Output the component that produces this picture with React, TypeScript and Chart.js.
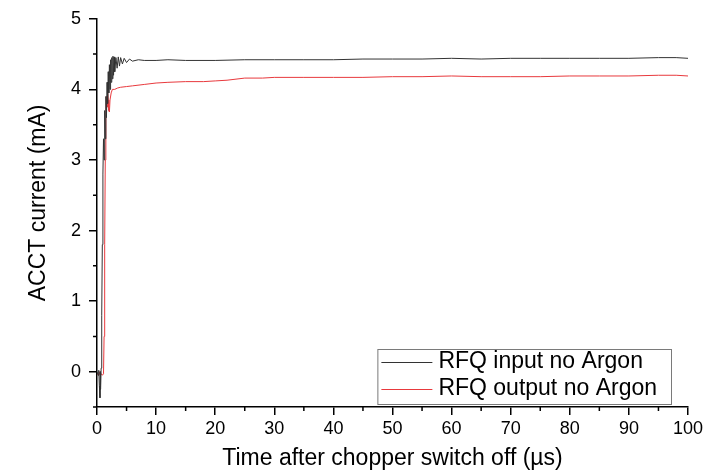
import React, { useEffect, useRef } from 'react';
import { Chart, registerables } from 'chart.js';

Chart.register(...registerables);

// ---- Data ----
const inputTime = [
  0, 0.2, 0.3, 0.4, 0.5, 0.55, 0.6, 0.7, 0.8, 0.9, 1.0, 1.1, 1.2, 1.3, 1.4, 1.5, 1.6, 1.7, 1.8, 1.9,
  2.0, 2.1, 2.2, 2.3, 2.4, 2.5, 2.6, 2.7, 2.8, 2.9, 3.0, 3.2, 3.4, 3.6, 3.8, 4.0, 4.3, 4.6, 5, 5.5,
  6, 7, 8, 10, 12, 15, 20, 25, 30, 35, 40, 45, 50, 55, 60, 65, 70, 75, 80, 85, 90, 95, 98, 100,
];
const inputCurrent = [
  0, -0.05, 0.02, -0.2, -0.37, 0.0, -0.25, 0.05, 0.8, 1.8, 2.8, 3.3, 3.0, 3.7, 3.3, 3.9, 3.6, 4.1, 3.8, 4.25,
  3.95, 4.35, 4.0, 4.42, 4.1, 4.45, 4.15, 4.47, 4.2, 4.46, 4.25, 4.45, 4.3, 4.46, 4.33, 4.45, 4.36, 4.44, 4.38, 4.43,
  4.4, 4.42, 4.41, 4.41, 4.42, 4.41, 4.41, 4.42, 4.42, 4.42, 4.42, 4.43, 4.43, 4.43, 4.44, 4.43, 4.44, 4.44, 4.44, 4.44, 4.44, 4.45, 4.45, 4.44,
];
const outputTime = [
  0, 0.3, 0.5, 0.7, 0.9, 1.1, 1.2, 1.3, 1.4, 1.5, 1.6, 1.7, 1.8, 1.9, 2.0, 2.1, 2.2, 2.4, 2.6, 3,
  3.5, 4, 5, 6, 8, 10, 12, 15, 18, 20, 22, 25, 28, 30, 35, 40, 45, 50, 55, 60,
  65, 70, 75, 80, 85, 90, 95, 98, 100,
];
const outputCurrent = [
  -0.03, -0.05, 0.0, -0.03, -0.05, -0.03, 0.5, 1.8, 3.0, 3.6, 3.9, 3.75, 3.95, 3.85, 3.7, 3.68, 3.85, 3.95, 4.0, 4.0,
  4.02, 4.03, 4.04, 4.05, 4.07, 4.09, 4.1, 4.11, 4.11, 4.12, 4.13, 4.16, 4.16, 4.17, 4.17, 4.17, 4.17, 4.18, 4.18, 4.19,
  4.18, 4.18, 4.18, 4.19, 4.19, 4.19, 4.2, 4.2, 4.19,
];

const seriesLabels = ['RFQ input no Argon', 'RFQ output no Argon'];
const seriesColors = ['#333333', '#e8393d'];

const xTickValues = [0, 10, 20, 30, 40, 50, 60, 70, 80, 90, 100];
const yTickValues = [0, 1, 2, 3, 4, 5];
const xMinorTicks = [5, 15, 25, 35, 45, 55, 65, 75, 85, 95];
const yMinorTicks = [-0.5, 0.5, 1.5, 2.5, 3.5, 4.5];

const xTitle = 'Time after chopper switch off (µs)';
const yTitle = 'ACCT current (mA)';

const FONT = '"Liberation Sans", Arial, sans-serif';

const minorTickPlugin = {
  id: 'minorTicks',
  afterDraw(chart: any) {
    const { ctx, chartArea, scales } = chart;
    const x = scales.x;
    const y = scales.y;
    ctx.save();
    ctx.strokeStyle = '#000';
    ctx.lineWidth = 1.5;
    ctx.beginPath();
    xMinorTicks.forEach((v) => {
      const px = x.getPixelForValue(v);
      ctx.moveTo(px, chartArea.bottom);
      ctx.lineTo(px, chartArea.bottom + 4);
    });
    yMinorTicks.forEach((v) => {
      const py = y.getPixelForValue(v);
      ctx.moveTo(chartArea.left, py);
      ctx.lineTo(chartArea.left - 4, py);
    });
    ctx.stroke();
    ctx.restore();
  },
};

const yTitlePlugin = {
  id: 'yTitle',
  afterDraw(chart: any) {
    const { ctx, chartArea } = chart;
    ctx.save();
    ctx.translate(39, (chartArea.top + chartArea.bottom) / 2 - 10);
    ctx.rotate(-Math.PI / 2);
    ctx.font = `23px ${FONT}`;
    ctx.fillStyle = '#000';
    ctx.textAlign = 'center';
    ctx.textBaseline = 'middle';
    ctx.fillText(yTitle, 0, 0);
    ctx.restore();
  },
};

const boxLegendPlugin = {
  id: 'boxLegend',
  afterDraw(chart: any) {
    const { ctx, chartArea } = chart;
    const datasets = chart.data.datasets;
    ctx.save();
    ctx.font = `23px ${FONT}`;
    let maxW = 0;
    datasets.forEach((d: any) => {
      maxW = Math.max(maxW, ctx.measureText(d.label).width);
    });
    const lineLen = 51;
    const padL = 4;
    const gap = 6;
    const padR = 14;
    const rowH = 27;
    const width = padL + lineLen + gap + maxW + padR;
    const height = 55;
    const right = chartArea.right - 17;
    const bottom = chartArea.bottom - 3;
    const left = right - width;
    const top = bottom - height;
    ctx.fillStyle = '#fff';
    ctx.fillRect(left, top, width, height);
    ctx.strokeStyle = '#7a7a7a';
    ctx.lineWidth = 1;
    ctx.strokeRect(left + 0.5, top + 0.5, width, height);
    datasets.forEach((d: any, i: number) => {
      const cy = top + 13 + i * rowH;
      ctx.strokeStyle = d.borderColor;
      ctx.lineWidth = 1;
      ctx.beginPath();
      ctx.moveTo(left + padL, cy + 0.5);
      ctx.lineTo(left + padL + lineLen, cy + 0.5);
      ctx.stroke();
      ctx.fillStyle = '#000';
      ctx.textBaseline = 'middle';
      ctx.textAlign = 'left';
      ctx.fillText(d.label, left + padL + lineLen + gap, cy);
    });
    ctx.restore();
  },
};

export default function App() {
  const canvasRef = useRef<HTMLCanvasElement | null>(null);

  useEffect(() => {
    const canvas = canvasRef.current;
    if (!canvas) return;
    const chart = new Chart(canvas, {
      type: 'line',
      data: {
        datasets: [
          {
            label: seriesLabels[0],
            data: inputTime.map((t, i) => ({ x: t, y: inputCurrent[i] })),
            borderColor: seriesColors[0],
            backgroundColor: seriesColors[0],
            borderWidth: 1,
            pointRadius: 0,
            tension: 0,
          },
          {
            label: seriesLabels[1],
            data: outputTime.map((t, i) => ({ x: t, y: outputCurrent[i] })),
            borderColor: seriesColors[1],
            backgroundColor: seriesColors[1],
            borderWidth: 1,
            pointRadius: 0,
            tension: 0,
          },
        ],
      },
      options: {
        animation: false,
        responsive: false,
        events: [],
        layout: { padding: { left: 0, right: 38, top: 16, bottom: 0 } },
        plugins: {
          legend: { display: false },
          tooltip: { enabled: false },
        },
        scales: {
          x: {
            type: 'linear',
            min: 0,
            max: 100,
            afterBuildTicks: (scale: any) => {
              scale.ticks = xTickValues.map((v) => ({ value: v }));
            },
            afterFit: (scale: any) => {
              scale.height = 67;
            },
            ticks: {
              autoSkip: false,
              maxRotation: 0,
              padding: 3,
              color: '#000',
              font: { family: FONT, size: 18 },
            },
            grid: {
              drawOnChartArea: false,
              drawTicks: true,
              tickLength: 8,
              color: '#000',
              lineWidth: 1.5,
            },
            border: { display: true, color: '#000', width: 1.5 },
            title: {
              display: true,
              text: xTitle,
              color: '#000',
              font: { family: FONT, size: 23 },
              padding: { top: 0, bottom: 2 },
            },
          },
          y: {
            type: 'linear',
            min: -0.5,
            max: 5,
            afterBuildTicks: (scale: any) => {
              scale.ticks = yTickValues.map((v) => ({ value: v }));
            },
            afterFit: (scale: any) => {
              scale.width = 97;
            },
            ticks: {
              autoSkip: false,
              padding: 8,
              color: '#000',
              font: { family: FONT, size: 18 },
            },
            grid: {
              drawOnChartArea: false,
              drawTicks: true,
              tickLength: 8,
              color: '#000',
              lineWidth: 1.5,
            },
            border: { display: true, color: '#000', width: 1.5 },
            title: { display: false },
          },
        },
      },
      plugins: [minorTickPlugin, yTitlePlugin, boxLegendPlugin],
    } as any);
    return () => chart.destroy();
  }, []);

  return (
    <div style={{ position: 'fixed', left: 0, top: 0, width: 726, height: 474, background: '#fff' }}>
      <canvas ref={canvasRef} width={726} height={474} style={{ width: 726, height: 474, display: 'block' }} />
    </div>
  );
}
